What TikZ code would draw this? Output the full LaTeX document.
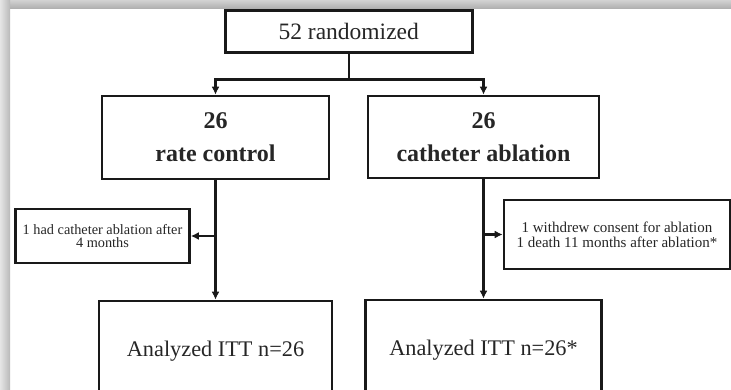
\documentclass[tikz,border=0pt]{standalone}
\usepackage{fontspec}
\setmainfont{Liberation Serif}
\usetikzlibrary{positioning,arrows.meta}

\begin{document}
\begin{tikzpicture}[x=1pt,y=-1pt,
    box/.style={draw=black!90, line width=2.6pt, align=center, inner sep=0pt, text=black!85},
    main text/.style={font=\fontsize{22.3}{26}\selectfont},
    arm text/.style={font=\bfseries\fontsize{24}{33}\selectfont},
    link/.style={draw=black!90, line width=2.4pt},
    arrow/.style={link, -{Latex[length=8pt,width=8pt]}}
]
    \useasboundingbox (0,0) rectangle (731,390);
    \clip (0,0) rectangle (731,390);
    \fill[white] (0,0) rectangle (731,390);
    \shade[top color=gray!35, bottom color=gray!65] (0,0) rectangle (731,9);
    \shade[left color=gray!20, right color=gray!55] (0,0) rectangle (10,390);

    \node[box, font=\fontsize{23.5}{27}\selectfont, minimum width=247pt, minimum height=42pt] (randomized) at (348.7,31.5) {52 randomized};

    \node[box, arm text, minimum width=227pt, minimum height=83pt] (rate control) at (215.5,137.5) {26\\rate control};
    \node[box, arm text, minimum width=231pt, minimum height=82pt] (ablation) at (483.5,137) {26\\catheter ablation};

    \node[box, font=\fontsize{14.3}{12.8}\selectfont, minimum width=174pt, minimum height=54pt] (rate crossover) at (102.5,236)
        {1 had catheter ablation after\\4 months};
    \node[box, font=\fontsize{15}{15}\selectfont, minimum width=226pt, minimum height=69pt] (ablation dropout) at (617,234.5)
        {1 withdrew consent for ablation\\1 death 11 months after ablation*};

    \node[box, main text, minimum width=233pt, minimum height=100pt] (rate itt) at (215.5,351) {Analyzed ITT n=26};
    \node[box, main text, minimum width=236pt, minimum height=100pt] (ablation itt) at (483.5,350) {Analyzed ITT n=26*};

    \coordinate (split) at (randomized.south |- 0,79.5);
    \draw[link] (randomized.south) -- (split);
    \draw[arrow] (split) -| (rate control.north);
    \draw[arrow] (split) -| (ablation.north);

    \draw[arrow] (rate control.south) -- (rate itt.north);
    \draw[arrow] (ablation.south) -- (ablation itt.north);
    \draw[arrow] (rate control.south |- rate crossover.east) -- (rate crossover.east);
    \draw[arrow] (ablation.south |- ablation dropout.west) -- (ablation dropout.west);
\end{tikzpicture}
\end{document}
